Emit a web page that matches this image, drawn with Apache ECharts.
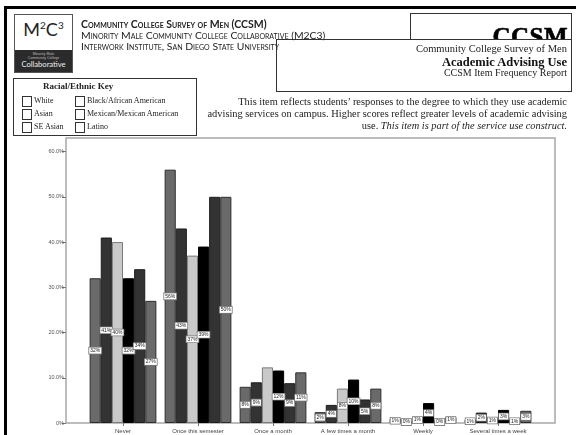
<!DOCTYPE html>
<html>
<head>
<meta charset="utf-8">
<script src="https://cdn.jsdelivr.net/npm/echarts@6/dist/echarts.min.js"></script>
<style>
  html, body { margin: 0; padding: 0; background: #fff; }
  #page { position: relative; width: 576px; height: 435px; overflow: hidden; background: #fff; }
  #chart { position: absolute; left: 0; top: 0; width: 576px; height: 435px; }
  .abs { position: absolute; white-space: nowrap; }
  .bar-left { left: 4px; top: 6px; width: 3px; height: 429px; background: #000; }
  .bar-top { left: 4px; top: 6px; width: 572px; height: 3px; background: #000; }
  .logo { left: 14px; top: 14px; width: 57px; height: 57px; border: 1px solid #555; background: #fff; overflow: hidden; }
  .logo .mark { position: absolute; left: 0; top: 3px; width: 57px; text-align: center; font: 18px Lato, "Open Sans", sans-serif; color: #222; }
  .logo .mark sup { font-size: 10px; vertical-align: 7px; line-height: 0; }
  .logo .foot { position: absolute; left: 0; top: 35px; width: 57px; height: 22px; background: #2b2b2b; text-align: center; color: #bbb; }
  .logo .s1 { font: 3.6px "Liberation Sans", sans-serif; line-height: 4.2px; padding-top: 2px; }
  .logo .s2 { font: 7.6px Lato, "Open Sans", sans-serif; color: #eee; line-height: 9px; }
  .hd { left: 81px; font-family: Lato, "Open Sans", sans-serif; font-variant: small-caps; color: #222; }
  .h1 { top: 18px; font-size: 10.5px; font-weight: bold; }
  .h2 { top: 28.5px; font-size: 10.4px; }
  .h3 { top: 40px; font-size: 10.4px; }
  .box1 { left: 410px; top: 12.5px; width: 160px; height: 26px; border: 1px solid #333; border-bottom: none; overflow: hidden; }
  .box1 .big { position: absolute; right: 3px; top: 9px; font: bold 25px "Liberation Serif", "DejaVu Serif", serif; color: #000; letter-spacing: 0.5px; -webkit-text-stroke: 0.6px #000; }
  .box2 { left: 276px; top: 38.8px; width: 294px; height: 51px; border: 1px solid #333; }
  .serif { font-family: "Liberation Serif", "DejaVu Serif", serif; color: #222; }
  .r { right: 9px; text-align: right; }
  .t1 { top: 43px; font-size: 10.5px; }
  .t2 { top: 54.5px; font-size: 12.5px; font-weight: bold; color: #111; }
  .t3 { top: 67px; font-size: 10px; }
  .key { left: 13px; top: 78px; width: 182px; height: 56px; border: 1px solid #333; }
  .key .title { position: absolute; left: 29px; top: 2px; font-size: 9px; font-weight: bold; }
  .cb { position: absolute; width: 8px; height: 9px; border: 1px solid #333; background: #fff; }
  .kl { position: absolute; font-size: 8px; }
  .desc { font-size: 10.4px; right: 9px; text-align: right; }
</style>
</head>
<body>
<div id="page">
  <div id="chart"></div>

  <div class="abs bar-left"></div>
  <div class="abs bar-top"></div>

  <div class="abs logo">
    <div class="mark">M<sup>2</sup>C<sup>3</sup></div>
    <div class="foot">
      <div class="s1">Minority Male<br>Community College</div>
      <div class="s2">Collaborative</div>
    </div>
  </div>

  <div class="abs hd h1">Community College Survey of Men (CCSM)</div>
  <div class="abs hd h2">Minority Male Community College Collaborative (M2C3)</div>
  <div class="abs hd h3">Interwork Institute, San Diego State University</div>

  <div class="abs box1"><div class="big">CCSM</div></div>
  <div class="abs box2"></div>
  <div class="abs serif r t1">Community College Survey of Men</div>
  <div class="abs serif r t2">Academic Advising Use</div>
  <div class="abs serif r t3">CCSM Item Frequency Report</div>

  <div class="abs key serif">
    <div class="title">Racial/Ethnic Key</div>
    <div class="cb" style="left:8px;top:17px"></div><div class="kl" style="left:20px;top:17px">White</div>
    <div class="cb" style="left:8px;top:30px"></div><div class="kl" style="left:20px;top:30px">Asian</div>
    <div class="cb" style="left:8px;top:43px"></div><div class="kl" style="left:20px;top:43px">SE Asian</div>
    <div class="cb" style="left:61px;top:17px"></div><div class="kl" style="left:73px;top:17px">Black/African American</div>
    <div class="cb" style="left:61px;top:30px"></div><div class="kl" style="left:73px;top:30px">Mexican/Mexican American</div>
    <div class="cb" style="left:61px;top:43px"></div><div class="kl" style="left:73px;top:43px">Latino</div>
  </div>

  <div class="abs serif desc" style="top:96px">This item reflects students’ responses to the degree to which they use academic</div>
  <div class="abs serif desc" style="top:108px">advising services on campus. Higher scores reflect greater levels of academic advising</div>
  <div class="abs serif desc" style="top:120px">use. <i>This item is part of the service use construct.</i></div>
</div>

<script>
// Response categories along the x axis
const categories = ['Never', 'Once this semester', 'Once a month', 'A few times a month', 'Weekly', 'Several times a week'];

// Percent of respondents per group, one value per category
const white   = [32, 56, 8,    2.4, 1.0, 0.8];
const asian   = [41, 43, 9,    4.0, 0.4, 2.3];
const seAsian = [40, 37, 12.3, 7.6, 1.3, 1.1];
const black   = [32, 39, 11.6, 9.6, 4.4, 2.9];
const mexican = [34, 50, 8.8,  5.2, 0.4, 0.8];
const latino  = [27, 50, 11.2, 7.6, 1.3, 2.7];

// Value axis ticks (percent)
const yTicks = [0, 10, 20, 30, 40, 50, 60];

const groups = [
  { name: 'White', values: white, color: '#6a6a6a', border: '#2e2e2e', noLabel: [] },
  { name: 'Asian', values: asian, color: '#333333', border: '#1e1e1e', noLabel: [] },
  { name: 'SE Asian', values: seAsian, color: '#c9c9c9', border: '#7a7a7a', noLabel: [2] },
  { name: 'Black/African American', values: black, color: '#000000', border: '#000000', noLabel: [] },
  { name: 'Mexican/Mexican American', values: mexican, color: '#333333', border: '#1e1e1e', noLabel: [1] },
  { name: 'Latino', values: latino, color: '#6a6a6a', border: '#2e2e2e', noLabel: [] }
];

const yMax = 63;

const series = groups.map(g => ({
  name: g.name,
  type: 'bar',
  xAxisIndex: 1,
  yAxisIndex: 1,
  barGap: '0%',
  barCategoryGap: '11%',
  itemStyle: { color: g.color, borderColor: g.border, borderWidth: 1 },
  label: {
    show: true,
    position: 'inside',
    formatter: p => Math.round(p.value) + '%',
    fontSize: 5,
    fontFamily: 'Liberation Sans, Arial, sans-serif',
    color: '#222',
    backgroundColor: '#fff',
    borderColor: '#777',
    borderWidth: 0.8,
    padding: [1, 1, 0, 1]
  },
  data: g.values.map((v, i) => g.noLabel.includes(i) ? { value: v, label: { show: false } } : v)
}));

const chart = echarts.init(document.getElementById('chart'), null, { renderer: 'canvas' });
chart.setOption({
  animation: false,
  backgroundColor: 'transparent',
  grid: [
    { left: 66, top: 138, width: 489, height: 285, show: true, borderColor: '#a8a8a8', borderWidth: 1.5, backgroundColor: 'transparent' },
    { left: 85.5, top: 138, width: 450, height: 285 }
  ],
  xAxis: [
    { gridIndex: 0, type: 'category', data: [], show: false },
    {
      gridIndex: 1,
      type: 'category',
      data: categories,
      axisLine: { show: false },
      axisTick: { show: true, alignWithLabel: true, length: 3, lineStyle: { color: '#777' } },
      axisLabel: { interval: 0, fontSize: 6, color: '#444', margin: 5, fontFamily: 'Liberation Sans, Arial, sans-serif' }
    }
  ],
  yAxis: [
    {
      gridIndex: 0,
      type: 'value',
      min: yTicks[0],
      max: yMax,
      interval: 10,
      axisLine: { show: false },
      splitLine: { show: false },
      axisTick: { show: true, length: 4, lineStyle: { color: '#777' } },
      axisLabel: {
        showMaxLabel: false,
        fontSize: 5.5,
        color: '#555',
        margin: 2,
        fontFamily: 'Liberation Sans, Arial, sans-serif',
        formatter: v => yTicks.includes(v) ? (v === 0 ? '0%' : v.toFixed(1) + '%') : ''
      }
    },
    { gridIndex: 1, type: 'value', min: yTicks[0], max: yMax, show: false }
  ],
  series: series
});
</script>
</body>
</html>
